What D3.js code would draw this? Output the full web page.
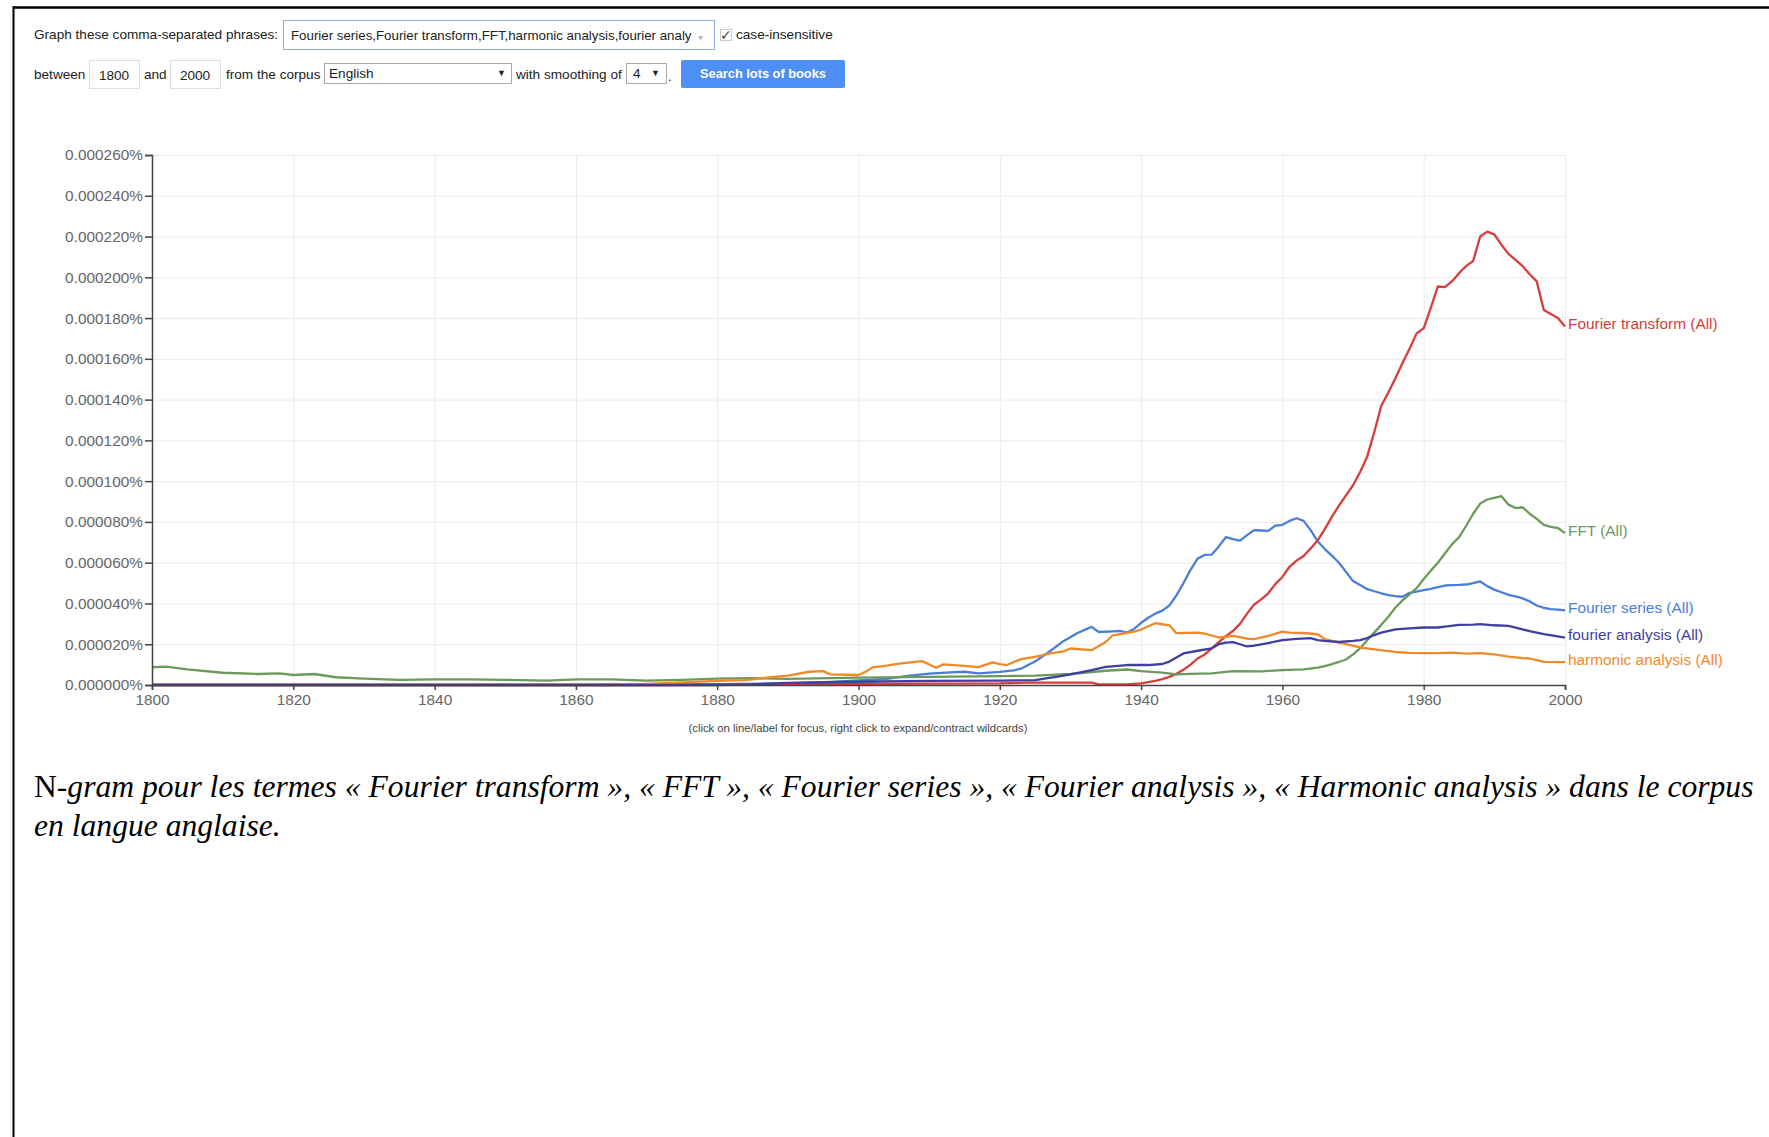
<!doctype html>
<html lang="fr">
  <head>
    <meta charset="UTF-8" />
    <title>N-gram Fourier</title>
    <script src="https://unpkg.com/d3@7.9.0/dist/d3.min.js"></script>
    <style>
      body {
        margin: 0;
        background: #fff;
      }
      .ui {
        font-family: 'Liberation Sans', Arial, sans-serif;
        font-size: 13.6px;
        fill: #222;
      }
      .axis text {
        font-family: 'Liberation Sans', Arial, sans-serif;
        font-size: 15.4px;
        fill: #666;
      }
      .axis path,
      .axis line {
        stroke: #444;
        stroke-width: 1.5px;
      }
      .grid line {
        stroke: #ebebeb;
        stroke-width: 1px;
      }
      .grid path {
        display: none;
      }
      .series {
        fill: none;
        stroke-width: 2.3px;
        stroke-linejoin: round;
      }
      .label {
        font-family: 'Liberation Sans', Arial, sans-serif;
        font-size: 15.4px;
      }
      .caption {
        font-family: 'Liberation Serif', 'Times New Roman', serif;
        font-size: 30px;
        fill: #000;
      }
    </style>
  </head>
  <body>
    <svg width="1769" height="1137"></svg>

    <script>
      // values in millionths of a percent (20 -> 0.000020%)
      const seriesNames = [
        'Fourier series (All)',
        'Fourier transform (All)',
        'FFT (All)',
        'harmonic analysis (All)',
        'fourier analysis (All)',
      ];
      const seriesColors = ['#4b7ed8', '#d83c3c', '#6b9a5c', '#f08a28', '#3f3fa0'];

      const fourierSeries = [
        [1800, 0.2], [1860, 0.2], [1880, 0.4], [1890, 0.8], [1896, 1.5], [1900, 2.2],
        [1904, 3.0], [1907, 4.5], [1910, 5.6], [1913, 6.2], [1915, 6.5], [1917, 5.7],
        [1920, 6.4], [1922, 7.2], [1923, 8.0], [1924, 9.8], [1925, 11.5], [1927, 16.3],
        [1929, 21.5], [1931, 25.5], [1933, 28.5], [1934, 26.0], [1936, 26.3], [1937, 26.5],
        [1938, 25.7], [1939, 27.5], [1940, 30.5], [1941, 33.0], [1942, 35.0], [1943, 36.5],
        [1944, 39.0], [1945, 44.0], [1946, 50.0], [1947, 56.5], [1948, 62.0], [1949, 63.8],
        [1950, 64.0], [1951, 68.0], [1952, 72.5], [1953, 71.6], [1954, 70.8], [1955, 73.5],
        [1956, 76.0], [1957, 75.8], [1958, 75.6], [1959, 78.2], [1960, 78.6], [1961, 80.5],
        [1962, 81.8], [1963, 80.5], [1964, 76.0], [1965, 70.5], [1966, 66.7], [1967, 63.5],
        [1968, 60.0], [1969, 55.5], [1970, 51.0], [1971, 49.0], [1972, 47.0], [1973, 46.0],
        [1974, 45.0], [1975, 44.1], [1976, 43.6], [1977, 43.3], [1978, 45.2], [1979, 45.8],
        [1980, 46.5], [1981, 47.2], [1982, 48.0], [1983, 48.8], [1984, 49.0], [1985, 49.1],
        [1986, 49.3], [1987, 50.0], [1988, 50.8], [1989, 48.5], [1990, 46.8], [1991, 45.5],
        [1992, 44.2], [1993, 43.5], [1994, 42.5], [1995, 41.0], [1996, 39.0], [1997, 37.8],
        [1998, 37.2], [1999, 37.0], [2000, 36.6],
      ];

      const fourierTransform = [
        [1800, 0], [1870, 0], [1880, 0.1], [1890, 0.3], [1900, 0.5], [1910, 0.7],
        [1920, 0.8], [1924, 1.2], [1933, 1.2], [1934, 0.3], [1938, 0.3], [1940, 0.8],
        [1942, 2.0], [1943, 2.9], [1944, 4.0], [1945, 5.5], [1946, 7.5], [1947, 10.0],
        [1948, 13.0], [1949, 15.0], [1950, 18.0], [1951, 21.0], [1952, 24.0], [1953, 26.5],
        [1954, 30.0], [1955, 35.0], [1956, 39.5], [1957, 42.0], [1958, 45.0], [1959, 49.5],
        [1960, 53.0], [1961, 58.0], [1962, 61.0], [1963, 63.3], [1964, 67.0], [1965, 71.0],
        [1966, 76.5], [1967, 82.5], [1968, 88.0], [1969, 93.0], [1970, 98.0], [1971, 104.5],
        [1972, 112.0], [1973, 124.0], [1974, 137.0], [1975, 143.5], [1976, 150.5], [1977, 158.0],
        [1978, 165.0], [1979, 172.5], [1980, 175.0], [1981, 185.0], [1982, 195.5], [1983, 195.2],
        [1984, 198.0], [1985, 202.0], [1986, 205.5], [1987, 208.0], [1988, 220.0], [1989, 222.4],
        [1990, 221.0], [1991, 216.0], [1992, 211.5], [1993, 208.5], [1994, 205.5], [1995, 201.5],
        [1996, 198.0], [1997, 184.0], [1998, 182.0], [1999, 180.0], [2000, 175.9],
      ];

      const fft = [
        [1800, 8.7], [1802, 9.0], [1805, 7.7], [1810, 6.0], [1815, 5.4], [1818, 5.7],
        [1820, 4.9], [1823, 5.4], [1826, 3.8], [1830, 3.1], [1835, 2.5], [1840, 2.8],
        [1845, 2.8], [1850, 2.5], [1856, 2.1], [1860, 2.8], [1865, 2.8], [1870, 2.1],
        [1875, 2.5], [1880, 3.1], [1885, 3.3], [1890, 3.0], [1900, 3.6], [1910, 4.0],
        [1920, 4.4], [1925, 4.6], [1930, 5.4], [1933, 6.3], [1935, 7.0], [1938, 7.6],
        [1940, 6.8], [1943, 6.1], [1945, 5.2], [1947, 5.5], [1950, 5.7], [1953, 6.8],
        [1957, 6.7], [1960, 7.3], [1963, 7.7], [1965, 8.5], [1966, 9.3], [1967, 10.2],
        [1968, 11.3], [1969, 12.5], [1970, 15.0], [1971, 18.0], [1972, 22.0], [1973, 25.7],
        [1974, 29.5], [1975, 33.5], [1976, 38.0], [1977, 41.5], [1978, 44.5], [1979, 47.5],
        [1980, 52.0], [1981, 56.0], [1982, 60.0], [1983, 64.5], [1984, 69.0], [1985, 72.5],
        [1986, 78.0], [1987, 84.0], [1988, 89.0], [1989, 91.0], [1990, 91.8], [1991, 92.6],
        [1992, 88.5], [1993, 86.8], [1994, 87.2], [1995, 84.0], [1996, 81.5], [1997, 78.5],
        [1998, 77.6], [1999, 77.0], [2000, 74.5],
      ];

      const harmonicAnalysis = [
        [1800, 0], [1865, 0], [1870, 0.5], [1875, 1.3], [1880, 2.0], [1884, 2.4],
        [1887, 3.6], [1890, 4.6], [1893, 6.5], [1895, 6.8], [1896, 5.2], [1900, 4.9],
        [1901, 6.5], [1902, 8.6], [1904, 9.5], [1906, 10.6], [1909, 11.7], [1911, 8.5],
        [1912, 10.1], [1915, 9.4], [1917, 8.8], [1919, 11.1], [1920, 10.2], [1921, 9.8],
        [1923, 12.7], [1925, 13.8], [1927, 15.4], [1929, 16.5], [1930, 17.9], [1933, 17.1],
        [1935, 21.1], [1936, 24.4], [1939, 26.2], [1940, 27.2], [1942, 30.3], [1943, 29.8],
        [1944, 29.3], [1945, 25.4], [1948, 25.7], [1949, 25.2], [1951, 23.3], [1953, 24.1],
        [1955, 22.7], [1956, 22.5], [1958, 24.1], [1960, 26.2], [1961, 25.7], [1963, 25.5],
        [1965, 24.9], [1966, 22.5], [1967, 21.6], [1969, 20.0], [1971, 18.4], [1973, 17.5],
        [1976, 16.2], [1978, 15.8], [1980, 15.6], [1982, 15.6], [1984, 15.9], [1986, 15.4],
        [1988, 15.6], [1990, 15.0], [1992, 13.9], [1994, 13.2], [1995, 13.0], [1996, 12.2],
        [1997, 11.3], [2000, 11.2],
      ];

      const fourierAnalysis = [
        [1800, 0], [1880, 0], [1885, 0.3], [1890, 1.0], [1900, 1.6], [1910, 2.0],
        [1920, 2.1], [1925, 2.4], [1927, 3.5], [1928, 4.0], [1930, 5.2], [1933, 7.3],
        [1935, 8.9], [1938, 9.8], [1941, 9.8], [1943, 10.3], [1944, 11.5], [1945, 13.5],
        [1946, 15.5], [1948, 16.8], [1950, 18.0], [1951, 20.0], [1952, 20.8], [1953, 21.0],
        [1954, 20.0], [1955, 18.9], [1956, 19.3], [1958, 20.6], [1960, 22.0], [1962, 22.6],
        [1964, 23.0], [1965, 22.0], [1966, 21.6], [1968, 21.1], [1970, 21.6], [1971, 22.0],
        [1972, 23.0], [1973, 24.5], [1974, 25.7], [1976, 27.3], [1978, 27.8], [1980, 28.2],
        [1982, 28.2], [1983, 28.6], [1985, 29.5], [1987, 29.6], [1988, 29.9], [1990, 29.3],
        [1992, 29.0], [1993, 28.2], [1995, 26.4], [1997, 25.0], [1999, 23.8], [2000, 23.2],
      ];

      const seriesValues = [fourierSeries, fourierTransform, fft, harmonicAnalysis, fourierAnalysis];

      const yTicks = [0, 20, 40, 60, 80, 100, 120, 140, 160, 180, 200, 220, 240, 260];
      const xTicks = [1800, 1820, 1840, 1860, 1880, 1900, 1920, 1940, 1960, 1980, 2000];

      const svg = d3.select('svg');

      // page frame
      svg.append('rect').attr('x', 0).attr('y', 0).attr('width', 1769).attr('height', 1137).attr('fill', '#fff');
      svg.append('line').attr('x1', 13).attr('x2', 1769).attr('y1', 7.5).attr('y2', 7.5)
        .attr('stroke', '#000').attr('stroke-width', 2.5);
      svg.append('line').attr('x1', 13.5).attr('x2', 13.5).attr('y1', 6).attr('y2', 1137)
        .attr('stroke', '#000').attr('stroke-width', 2);

      // ---- search controls (screenshot header) ----
      const ui = svg.append('g');
      function uiText(xPos, yPos, str) {
        return ui.append('text').attr('class', 'ui')
          .attr('x', xPos).attr('y', yPos).attr('dy', '0.35em').text(str);
      }
      uiText(34, 34.5, 'Graph these comma-separated phrases:');
      ui.append('rect').attr('x', 283.5).attr('y', 20.5).attr('width', 431).attr('height', 29)
        .attr('fill', '#fff').attr('stroke', '#8eb0e6');
      uiText(291, 35.5, 'Fourier series,Fourier transform,FFT,harmonic analysis,fourier analy')
        .style('font-size', '13.3px');
      uiText(698, 37, '\u25BE').style('font-size', '10px').style('fill', '#bbb');
      ui.append('rect').attr('x', 720.5).attr('y', 29.5).attr('width', 11).attr('height', 11)
        .attr('fill', '#fff').attr('stroke', '#ccc');
      uiText(720, 35, '\u2713').style('font-size', '14px').style('fill', '#444');
      uiText(736, 34.5, 'case-insensitive');

      uiText(34, 74, 'between');
      ui.append('rect').attr('x', 89.5).attr('y', 60.5).attr('width', 50).attr('height', 28)
        .attr('fill', '#fff').attr('stroke', '#ddd');
      uiText(114, 75, '1800').attr('text-anchor', 'middle');
      uiText(144, 74, 'and');
      ui.append('rect').attr('x', 170.5).attr('y', 60.5).attr('width', 50).attr('height', 28)
        .attr('fill', '#fff').attr('stroke', '#ddd');
      uiText(195, 75, '2000').attr('text-anchor', 'middle');
      uiText(226, 74, 'from the corpus');
      ui.append('rect').attr('x', 324.5).attr('y', 63.5).attr('width', 187).attr('height', 20)
        .attr('fill', '#fff').attr('stroke', '#aaa');
      uiText(329, 73, 'English');
      uiText(497, 73, '\u25BC').style('font-size', '9px');
      uiText(516, 74, 'with smoothing of');
      ui.append('rect').attr('x', 626.5).attr('y', 63.5).attr('width', 40).attr('height', 20)
        .attr('fill', '#fff').attr('stroke', '#aaa');
      uiText(633, 73, '4');
      uiText(651, 73, '\u25BC').style('font-size', '9px');
      uiText(668, 76, '.');
      ui.append('rect').attr('x', 681).attr('y', 60).attr('width', 164).attr('height', 28)
        .attr('rx', 2).attr('fill', '#4d8ff5');
      uiText(763, 74, 'Search lots of books').attr('text-anchor', 'middle')
        .style('fill', '#fff').style('font-weight', 'bold').style('font-size', '12.8px');

      // ---- chart ----
      const margin = { top: 155, left: 152 };
      const innerWidth = 1413,
        innerHeight = 530;
      const g = svg.append('g').attr('transform', `translate(${margin.left},${margin.top})`);

      const x = d3.scaleLinear().domain([1800, 2000]).range([0, innerWidth]);
      const y = d3.scaleLinear().domain([0, 260]).range([innerHeight, 0]);

      // grid lines (no labels)
      g.append('g').attr('class', 'grid')
        .call(d3.axisLeft(y).tickValues(yTicks).tickSize(-innerWidth))
        .call((s) => s.selectAll('text').remove());
      g.append('g').attr('class', 'grid')
        .call(d3.axisBottom(x).tickValues(xTicks).tickSize(innerHeight))
        .call((s) => s.selectAll('text').remove());

      const line = d3.line()
        .x((d) => x(d[0]))
        .y((d) => y(d[1]));

      g.selectAll('.series')
        .data(seriesValues)
        .enter()
        .append('path')
        .attr('class', 'series')
        .attr('d', line)
        .attr('stroke', (d, i) => seriesColors[i]);

      g.append('g').attr('class', 'axis')
        .call(d3.axisLeft(y).tickValues(yTicks).tickSize(7).tickPadding(2)
          .tickFormat((d) => (d / 1e6).toFixed(6) + '%'));
      g.append('g').attr('class', 'axis')
        .attr('transform', `translate(0,${innerHeight})`)
        .call(d3.axisBottom(x).tickValues(xTicks).tickSize(5).tickPadding(4).tickFormat(d3.format('d')));

      // labels at line ends
      g.selectAll('.label')
        .data(seriesValues)
        .enter()
        .append('text')
        .attr('class', 'label')
        .attr('x', innerWidth + 3)
        .attr('y', (d) => y(d[d.length - 1][1]) - 3)
        .attr('dy', '0.35em')
        .attr('fill', (d, i) => seriesColors[i])
        .text((d, i) => seriesNames[i]);

      svg.append('text')
        .attr('x', 858).attr('y', 728).attr('dy', '0.35em')
        .attr('text-anchor', 'middle')
        .style('font-family', "'Liberation Sans', Arial, sans-serif")
        .style('font-size', '11.3px').style('fill', '#444')
        .text('(click on line/label for focus, right click to expand/contract wildcards)');

      // ---- caption ----
      const cap1 = svg.append('text').attr('class', 'caption').attr('x', 34).attr('y', 797);
      cap1.append('tspan').text('N-');
      cap1.append('tspan').style('font-style', 'italic')
        .text('gram pour les termes « Fourier transform », « FFT », « Fourier series », « Fourier analysis », « Harmonic analysis » dans le corpus');
      const cap2 = svg.append('text').attr('class', 'caption').attr('x', 34).attr('y', 836)
        .style('font-style', 'italic').text('en langue anglaise.');

      // fit the first caption line to the width it has in the source
      const fitSize = 30 * 1720 / cap1.node().getComputedTextLength();
      cap1.style('font-size', fitSize + 'px');
      cap2.style('font-size', fitSize + 'px');
    </script>
  </body>
</html>
